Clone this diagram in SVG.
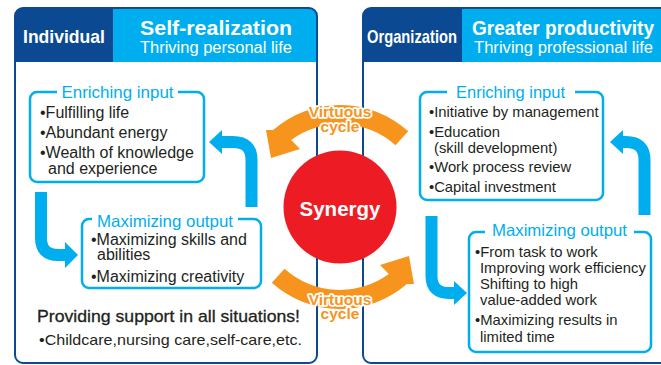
<svg xmlns="http://www.w3.org/2000/svg" width="661" height="365" viewBox="0 0 661 365">
<style>
text{font-family:"Liberation Sans",Arial,sans-serif}
.panel{fill:none;stroke:#0b4a92;stroke-width:2}
.dark{fill:#0b4a92}
.light{fill:#00aeef}
.hd{fill:#fff;font-weight:bold}
.sub{fill:#fff;font-size:16px}
.box{fill:#fff;stroke:#00aeef;stroke-width:2.5}
.gap{fill:#fff}
.ttl{fill:#00aeef;font-size:16.5px;text-anchor:middle}
.li{fill:#231f20;font-size:16px}
.ri{fill:#231f20;font-size:14.8px}
.barrow{fill:none;stroke:#00aeef;stroke-width:12}
.bhead{fill:#00aeef}
.oarrow{fill:#f7941d}
.vc{fill:#f7941d;font-size:15.5px;font-weight:bold;text-anchor:middle;stroke:#fff;stroke-width:3.5;stroke-linejoin:round;paint-order:stroke}
</style>
<rect width="661" height="365" fill="#fff"/>
<g id="panel-individual">
  <path class="dark" d="M15,62 V16 Q15,8 23,8 H114 V62 Z"/>
  <path class="light" d="M113,8 H309 Q317,8 317,16 V62 H113 Z"/>
  <rect class="panel" x="15" y="8" width="302" height="355" rx="8"/>
  <text class="hd" x="64" y="43" font-size="19" text-anchor="middle" textLength="82" lengthAdjust="spacingAndGlyphs">Individual</text>
  <text class="hd" x="216" y="35" font-size="20.5" text-anchor="middle" textLength="152" lengthAdjust="spacingAndGlyphs">Self-realization</text>
  <text class="sub" x="216" y="53" text-anchor="middle" textLength="152" lengthAdjust="spacingAndGlyphs">Thriving personal life</text>
</g>
<g id="panel-organization">
  <path class="dark" d="M363,62 V16 Q363,8 371,8 H463 V62 Z"/>
  <rect class="light" x="462" y="8" width="210" height="54"/>
  <rect class="panel" x="363" y="8" width="320" height="355" rx="8"/>
  <text class="hd" x="412" y="43" font-size="19" text-anchor="middle" textLength="90" lengthAdjust="spacingAndGlyphs">Organization</text>
  <text class="hd" x="563" y="35" font-size="20" text-anchor="middle" textLength="182" lengthAdjust="spacingAndGlyphs">Greater productivity</text>
  <text class="sub" x="563.5" y="53" text-anchor="middle" textLength="179" lengthAdjust="spacingAndGlyphs">Thriving professional life</text>
</g>
<g id="ind-enriching-input">
  <rect class="box" x="30" y="92" width="174" height="90" rx="7"/>
  <rect class="gap" x="57" y="88" width="121" height="8"/>
  <text class="ttl" x="117.5" y="98" textLength="112" lengthAdjust="spacingAndGlyphs">Enriching input</text>
  <text class="li" x="40" y="118">•Fulfilling life</text>
  <text class="li" x="40" y="138">•Abundant energy</text>
  <text class="li" x="40" y="158">•Wealth of knowledge</text>
  <text class="li" x="48" y="174">and experience</text>
</g>
<g id="ind-maximizing-output">
  <rect class="box" x="82" y="219" width="179" height="69" rx="7"/>
  <rect class="gap" x="92" y="215" width="146" height="8"/>
  <text class="ttl" x="165" y="227" textLength="136" lengthAdjust="spacingAndGlyphs">Maximizing output</text>
  <text class="li" x="91" y="245">•Maximizing skills and</text>
  <text class="li" x="97" y="260">abilities</text>
  <text class="li" x="91" y="282">•Maximizing creativity</text>
</g>
<g id="ind-support">
  <text x="37" y="322" fill="#231f20" stroke="#231f20" stroke-width="0.3" font-size="17" textLength="263" lengthAdjust="spacingAndGlyphs">Providing support in all situations!</text>
  <text x="39" y="345" fill="#231f20" font-size="15" textLength="263" lengthAdjust="spacingAndGlyphs">•Childcare,nursing care,self-care,etc.</text>
</g>
<g id="org-enriching-input">
  <rect class="box" x="420" y="92" width="183" height="108" rx="7"/>
  <rect class="gap" x="447" y="88" width="128" height="8"/>
  <text class="ttl" x="510.5" y="98" textLength="109" lengthAdjust="spacingAndGlyphs">Enriching input</text>
  <text class="ri" x="429" y="117">•Initiative by management</text>
  <text class="ri" x="429" y="137">•Education</text>
  <text class="ri" x="434" y="153">(skill development)</text>
  <text class="ri" x="429" y="172">•Work process review</text>
  <text class="ri" x="429" y="192">•Capital investment</text>
</g>
<g id="org-maximizing-output">
  <rect class="box" x="469" y="232" width="182" height="120" rx="7"/>
  <rect class="gap" x="485" y="228" width="149" height="8"/>
  <text class="ttl" x="559.5" y="236" textLength="135" lengthAdjust="spacingAndGlyphs">Maximizing output</text>
  <text class="ri" x="475" y="257">•From task to work</text>
  <text class="ri" x="480" y="273">Improving work efficiency</text>
  <text class="ri" x="480" y="289">Shifting to high</text>
  <text class="ri" x="480" y="305">value-added work</text>
  <text class="ri" x="475" y="325">•Maximizing results in</text>
  <text class="ri" x="480" y="342">limited time</text>
</g>
<g id="synergy">
  <circle cx="340" cy="207" r="56.5" fill="#ed1c24"/>
  <text x="340" y="216" fill="#fff" font-size="20.5" font-weight="bold" text-anchor="middle">Synergy</text>
</g>
<g id="connectors">
  <path class="barrow" d="M41,192 V238 Q41,255 58,255 H66"/>
  <polygon class="bhead" points="65,242 78,255 65,268"/>
  <path class="barrow" d="M251.5,207 V160 Q251.5,142 233,142 H221"/>
  <polygon class="bhead" points="222,130 209,142 222,154"/>
  <path class="barrow" d="M431.5,216 V276 Q431.5,293 449,293 H455"/>
  <polygon class="bhead" points="454,281 467,293 454,305"/>
  <path class="barrow" d="M644.5,215 V160 Q644.5,142 626,142 H622"/>
  <polygon class="bhead" points="623,130 610,142 623,154"/>
  <path id="cycle-top" class="oarrow" d="M408.2,131.2 A102,102 0 0 0 273.1,130 L266,130 L271,158 L300,149 L291.2,139.9 A83,83 0 0 1 395.5,145.3 Z"/>
  <path id="cycle-bottom" class="oarrow" transform="rotate(180 340 207)" d="M408.2,131.2 A102,102 0 0 0 273.1,130 L266,130 L271,158 L300,149 L291.2,139.9 A83,83 0 0 1 395.5,145.3 Z"/>
  <text class="vc" x="340" y="117">Virtuous</text>
  <text class="vc" x="340" y="132">cycle</text>
  <text class="vc" x="340" y="305">Virtuous</text>
  <text class="vc" x="340" y="319">cycle</text>
</g>
</svg>
